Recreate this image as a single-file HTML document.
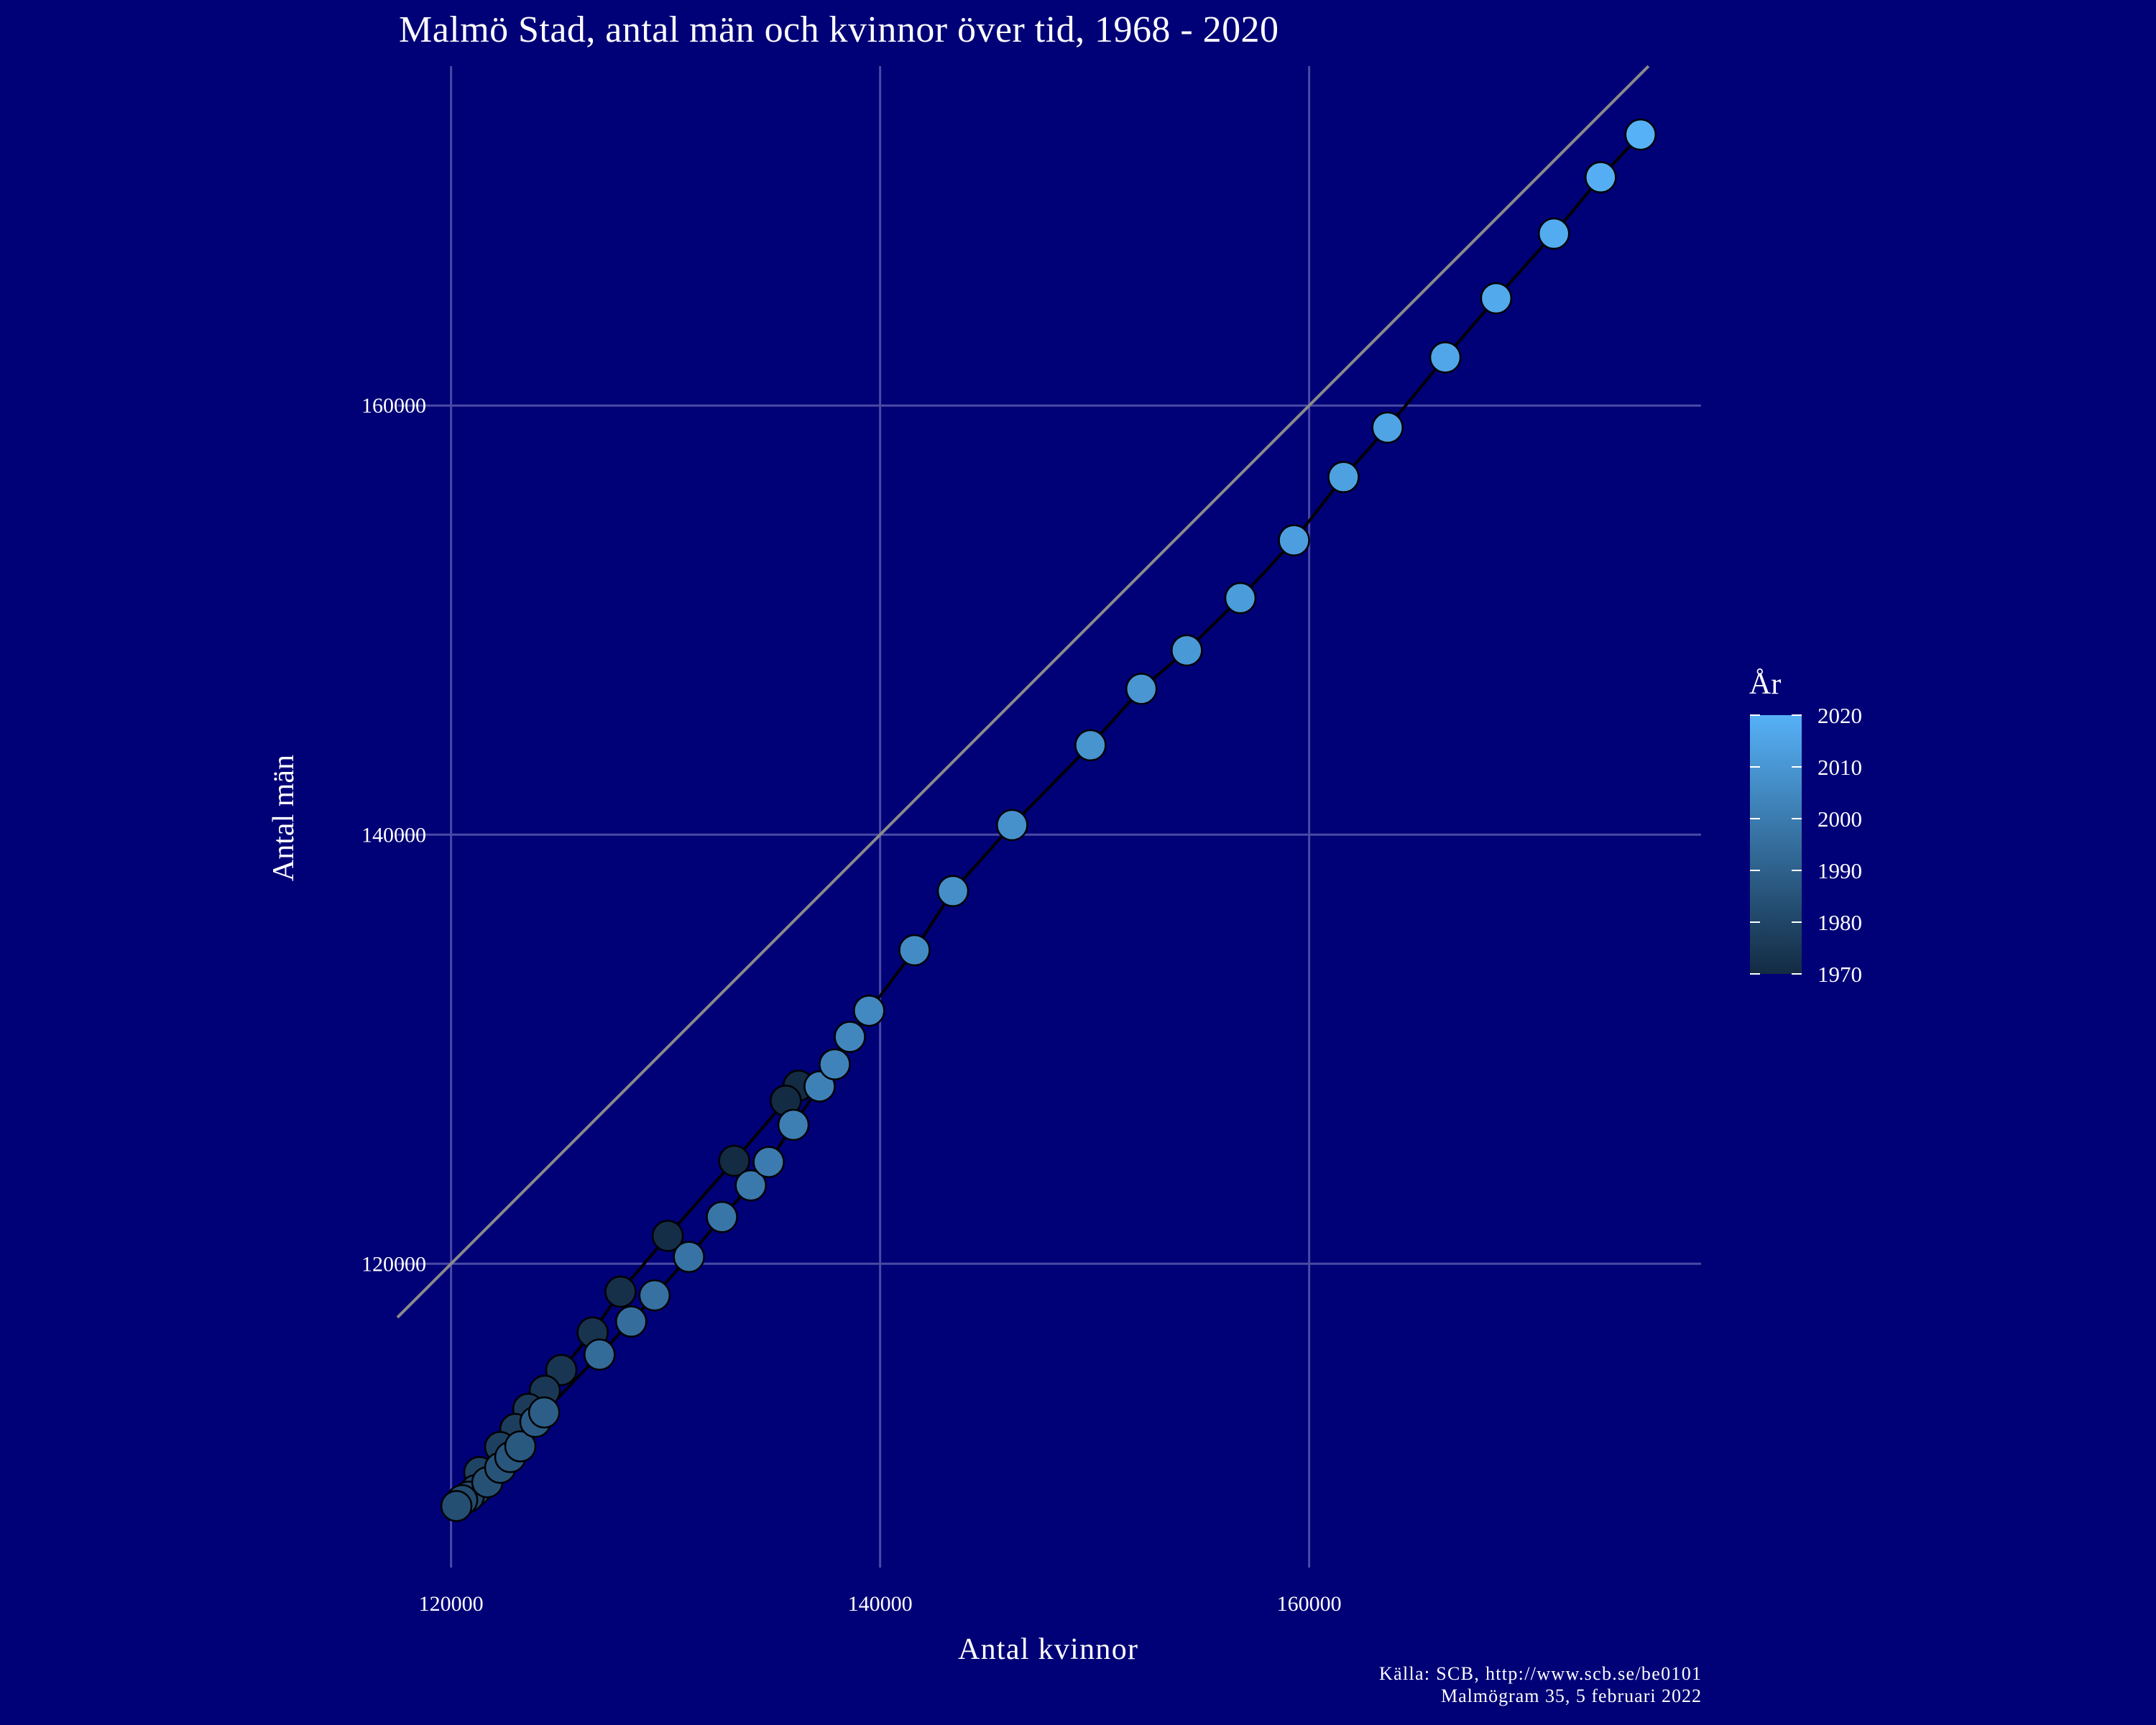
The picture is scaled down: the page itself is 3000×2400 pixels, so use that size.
<!DOCTYPE html>
<html><head><meta charset="utf-8"><style>
html,body{margin:0;padding:0;background:#000077;}
svg{display:block;font-family:"Liberation Serif",serif;}
</style></head><body>
<svg id="chart" width="3000" height="2400" viewBox="0 0 3000 2400" xmlns="http://www.w3.org/2000/svg">
<rect width="3000" height="2400" fill="#000077"/>
<text x="555" y="58" font-size="52" fill="#ffffff" textLength="1224">Malmö Stad, antal män och kvinnor över tid, 1968 - 2020</text>
<g id="grid"></g>
<g id="marks"></g>
<g id="axes"></g>
<text transform="translate(408,1138) rotate(-90)" text-anchor="middle" font-size="42" fill="#ffffff">Antal män</text>
<text x="1458" y="2308" text-anchor="middle" font-size="42" fill="#ffffff" textLength="250">Antal kvinnor</text>
<text x="2367" y="2337" text-anchor="end" font-size="26" fill="#ffffff" textLength="448">Källa: SCB, http://www.scb.se/be0101</text>
<text x="2367" y="2368" text-anchor="end" font-size="26" fill="#ffffff" textLength="362">Malmögram 35, 5 februari 2022</text>
<defs><linearGradient id="cb" x1="0" y1="1" x2="0" y2="0"><stop offset="0" stop-color="#132B43"/><stop offset="1" stop-color="#56B1F7"/></linearGradient></defs>
<g id="legend">
<text x="2434" y="965" font-size="42" fill="#ffffff">År</text>
<rect x="2435" y="995" width="72" height="360" fill="url(#cb)"/>
</g>
</svg>
<script>
const years=[1968,1969,1970,1971,1972,1973,1974,1975,1976,1977,1978,1979,1980,1981,1982,1983,1984,1985,1986,1987,1988,1989,1994,1995,1996,1997,1998,1999,2000,2001,2002,2003,2004,2005,2006,2007,2008,2009,2010,2011,2012,2013,2014,2015,2016,2017,2018,2019,2020];
const women=[136200,135600,133200,130100,127900,126600,125140,124370,123600,123000,122290,121320,121150,120820,120520,120250,121690,122290,122760,123230,123930,124340,126923,128397,129487,131090,132628,133974,134808,135962,137180,137885,138590,139487,141603,143397,146154,149808,152180,154295,156795,159295,161603,163654,166346,168718,171410,173590,175449];
const men=[128300,127600,124800,121300,118700,116800,115050,114080,113240,112300,111460,110290,109450,109150,108980,108710,109820,110490,110990,111490,112630,113070,115769,117308,118526,120321,122179,123654,124744,126474,128269,129295,130577,131795,134615,137372,140449,144167,146795,148590,151026,153718,156667,158974,162244,165000,168013,170641,172628];
const xTicks=[120000,140000,160000];
const yTicks=[120000,140000,160000];
const legendTicks=[1970,1980,1990,2000,2010,2020];
const NS="http://www.w3.org/2000/svg";
const X0=553,X1=2367,Y0=2181,Y1=92,XMIN=117500,XMAX=178270,YMIN=105840,YMAX=175820;
function sx(v){return X0+(v-XMIN)/(XMAX-XMIN)*(X1-X0);}
function sy(v){return Y0-(v-YMIN)/(YMAX-YMIN)*(Y0-Y1);}
function mk(t,a,p){const e=document.createElementNS(NS,t);for(const k in a)e.setAttribute(k,a[k]);p.appendChild(e);return e;}
const grid=document.getElementById('grid'),marks=document.getElementById('marks'),axes=document.getElementById('axes'),legend=document.getElementById('legend');
xTicks.forEach(v=>{
 const l=mk('line',{x1:sx(v),x2:sx(v),y1:Y1,y2:Y0,stroke:'#4a4aa6','stroke-width':3},grid);
 
 
 const t=mk('text',{x:sx(v),y:2241,'text-anchor':'middle','font-size':30,fill:'#ffffff'},axes);
 t.textContent=v;
 
 
});
yTicks.forEach(v=>{
 const l=mk('line',{x1:X0,x2:X1,y1:sy(v),y2:sy(v),stroke:'#4a4aa6','stroke-width':3},grid);
 
 
 const t=mk('text',{x:593,y:sy(v)+10,'text-anchor':'end','font-size':30,fill:'#ffffff'},axes);
 t.textContent=v;
 
 
});
const diagTop=Math.min(XMAX,YMAX);
const d=mk('line',{x1:sx(XMIN),y1:sy(XMIN),x2:sx(diagTop),y2:sy(diagTop),stroke:'#8a8a8a','stroke-width':4},marks);


const pts=women.map((w,i)=>sx(w)+','+sy(men[i])).join(' ');
const pl=mk('polyline',{points:pts,fill:'none',stroke:'#000000','stroke-width':4},marks);


function col(y){let t=(y-1970)/50;t=Math.max(0,Math.min(1,t));const a=[0x13,0x2B,0x43],b=[0x56,0xB1,0xF7];return 'rgb('+a.map((c,i)=>Math.round(c+(b[i]-c)*t)).join(',')+')';}
women.forEach((w,i)=>{
 const c=mk('circle',{cx:sx(w),cy:sy(men[i]),r:21,fill:col(years[i]),stroke:'#000000','stroke-width':2.5},marks);
 
 
});
legendTicks.forEach(v=>{
 const y=1355-(v-1970)/50*360;
 mk('line',{x1:2435,x2:2449,y1:y,y2:y,stroke:'#fff','stroke-width':2},legend);
 mk('line',{x1:2493,x2:2507,y1:y,y2:y,stroke:'#fff','stroke-width':2},legend);
 const t=mk('text',{x:2529,y:y+11,'font-size':31,fill:'#ffffff'},legend);
 t.textContent=v;
 
 
});
</script>
</body></html>
